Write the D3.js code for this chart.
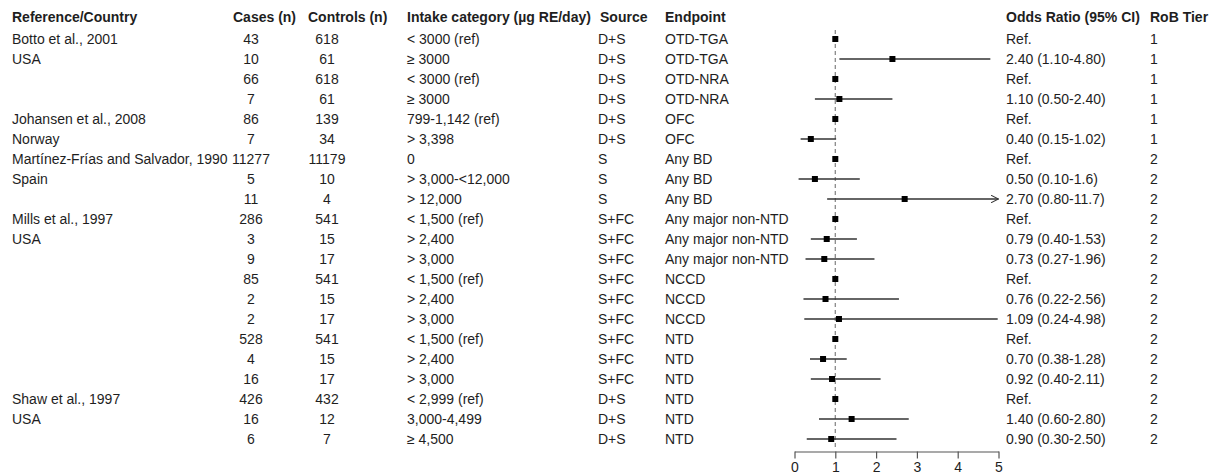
<!DOCTYPE html>
<html><head><meta charset="utf-8">
<script src="https://cdn.jsdelivr.net/npm/d3@7"></script>
<style>
html,body{margin:0;padding:0;background:#fff;}
svg text{font-family:"Liberation Sans",Arial,sans-serif;}
</style></head>
<body><svg id="c" width="1213" height="475"></svg>
<script>
const headers = ["Reference/Country","Cases (n)","Controls (n)","Intake category (µg RE/day)","Source","Endpoint","Odds Ratio (95% CI)","RoB Tier"];
const refCountry = ["Botto et al., 2001","USA","","","Johansen et al., 2008","Norway","Martínez-Frías and Salvador, 1990","Spain","","Mills et al., 1997","USA","","","","","","","","Shaw et al., 1997","USA",""];
const cases = ["43","10","66","7","86","7","11277","5","11","286","3","9","85","2","2","528","4","16","426","16","6"];
const controls = ["618","61","618","61","139","34","11179","10","4","541","15","17","541","15","17","541","15","17","432","12","7"];
const intake = ["< 3000 (ref)","≥ 3000","< 3000 (ref)","≥ 3000","799-1,142 (ref)","> 3,398","0","> 3,000-<12,000","> 12,000","< 1,500 (ref)","> 2,400","> 3,000","< 1,500 (ref)","> 2,400","> 3,000","< 1,500 (ref)","> 2,400","> 3,000","< 2,999 (ref)","3,000-4,499","≥ 4,500"];
const source = ["D+S","D+S","D+S","D+S","D+S","D+S","S","S","S","S+FC","S+FC","S+FC","S+FC","S+FC","S+FC","S+FC","S+FC","S+FC","D+S","D+S","D+S"];
const endpoint = ["OTD-TGA","OTD-TGA","OTD-NRA","OTD-NRA","OFC","OFC","Any BD","Any BD","Any BD","Any major non-NTD","Any major non-NTD","Any major non-NTD","NCCD","NCCD","NCCD","NTD","NTD","NTD","NTD","NTD","NTD"];
const orText = ["Ref.","2.40 (1.10-4.80)","Ref.","1.10 (0.50-2.40)","Ref.","0.40 (0.15-1.02)","Ref.","0.50 (0.10-1.6)","2.70 (0.80-11.7)","Ref.","0.79 (0.40-1.53)","0.73 (0.27-1.96)","Ref.","0.76 (0.22-2.56)","1.09 (0.24-4.98)","Ref.","0.70 (0.38-1.28)","0.92 (0.40-2.11)","Ref.","1.40 (0.60-2.80)","0.90 (0.30-2.50)"];
const rob = ["1","1","1","1","1","1","2","2","2","2","2","2","2","2","2","2","2","2","2","2","2"];
const orVal = [1,2.40,1,1.10,1,0.40,1,0.50,2.70,1,0.79,0.73,1,0.76,1.09,1,0.70,0.92,1,1.40,0.90];
const lower = [null,1.10,null,0.50,null,0.15,null,0.10,0.80,null,0.40,0.27,null,0.22,0.24,null,0.38,0.40,null,0.60,0.30];
const upper = [null,4.80,null,2.40,null,1.02,null,1.6,11.7,null,1.53,1.96,null,2.56,4.98,null,1.28,2.11,null,2.80,2.50];
const xTicks = [0,1,2,3,4,5];

const svg = d3.select("#c");
const n = refCountry.length;
const idx = d3.range(n);
const y = d3.scalePoint().domain(idx).range([39, 439]);
const x = d3.scaleLinear().domain([0,5]).range([794.5, 998.5]);
const fs = 14, col = "#1e1e1e";

// header
const hx = [{x:12,a:"start"},{x:233,a:"start"},{x:308,a:"start"},{x:407,a:"start"},{x:600,a:"start"},{x:665,a:"start"},{x:1006,a:"start"},{x:1150,a:"start"}];
svg.append("g").selectAll("text").data(headers).join("text")
  .attr("x",(d,i)=>hx[i].x).attr("y",17).attr("dy","0.35em")
  .attr("text-anchor",(d,i)=>hx[i].a)
  .attr("font-size",fs).attr("font-weight","bold").attr("fill",col).text(d=>d);

const cols = [
  {arr:refCountry,x:12,a:"start"},
  {arr:cases,x:251,a:"middle"},
  {arr:controls,x:327,a:"middle"},
  {arr:intake,x:407,a:"start"},
  {arr:source,x:598,a:"start"},
  {arr:endpoint,x:665,a:"start"},
  {arr:orText,x:1006,a:"start"},
  {arr:rob,x:1150,a:"start"}
];
cols.forEach(c=>{
  svg.append("g").selectAll("text").data(idx).join("text")
    .attr("x",c.x).attr("y",i=>y(i)).attr("dy","0.35em")
    .attr("text-anchor",c.a).attr("font-size",fs).attr("fill",col)
    .text(i=>c.arr[i]);
});

// reference line
svg.append("line").attr("x1",x(1)).attr("x2",x(1)).attr("y1",30).attr("y2",449)
  .attr("stroke","#8a8a8a").attr("stroke-width",1.3).attr("stroke-dasharray","4,3");

// arrow marker
svg.append("defs").append("marker").attr("id","arr").attr("viewBox","0 0 10 10")
  .attr("refX",10).attr("refY",5).attr("markerWidth",8).attr("markerHeight",8)
  .attr("markerUnits","userSpaceOnUse").attr("orient","auto")
  .append("path").attr("d","M0,0 L10,5 L0,10").attr("fill","none").attr("stroke","#333").attr("stroke-width",1.3);

const ci = idx.filter(i=>lower[i]!=null);
svg.append("g").selectAll("line").data(ci).join("line")
  .attr("x1",i=>x(lower[i])).attr("x2",i=>x(Math.min(upper[i],5)))
  .attr("y1",i=>y(i)).attr("y2",i=>y(i))
  .attr("stroke","#333").attr("stroke-width",1.3)
  .attr("marker-end",i=>upper[i]>5?"url(#arr)":null);

const s = 6;
svg.append("g").selectAll("rect").data(idx).join("rect")
  .attr("x",i=>x(orVal[i])-s/2).attr("y",i=>y(i)-s/2).attr("width",s).attr("height",s)
  .attr("fill","#000");

// axis
const ax = svg.append("g").attr("transform","translate(0,451.5)")
  .call(d3.axisBottom(x).tickValues(xTicks).tickFormat(d3.format("d")).tickSize(7).tickSizeOuter(0).tickPadding(4));
ax.select(".domain").attr("stroke","#555").attr("stroke-width",1.2);
ax.selectAll(".tick line").attr("stroke","#555").attr("stroke-width",1.2);
ax.selectAll(".tick text").attr("font-size",14).attr("fill",col).attr("font-family","Liberation Sans, Arial, sans-serif");
</script></body></html>
